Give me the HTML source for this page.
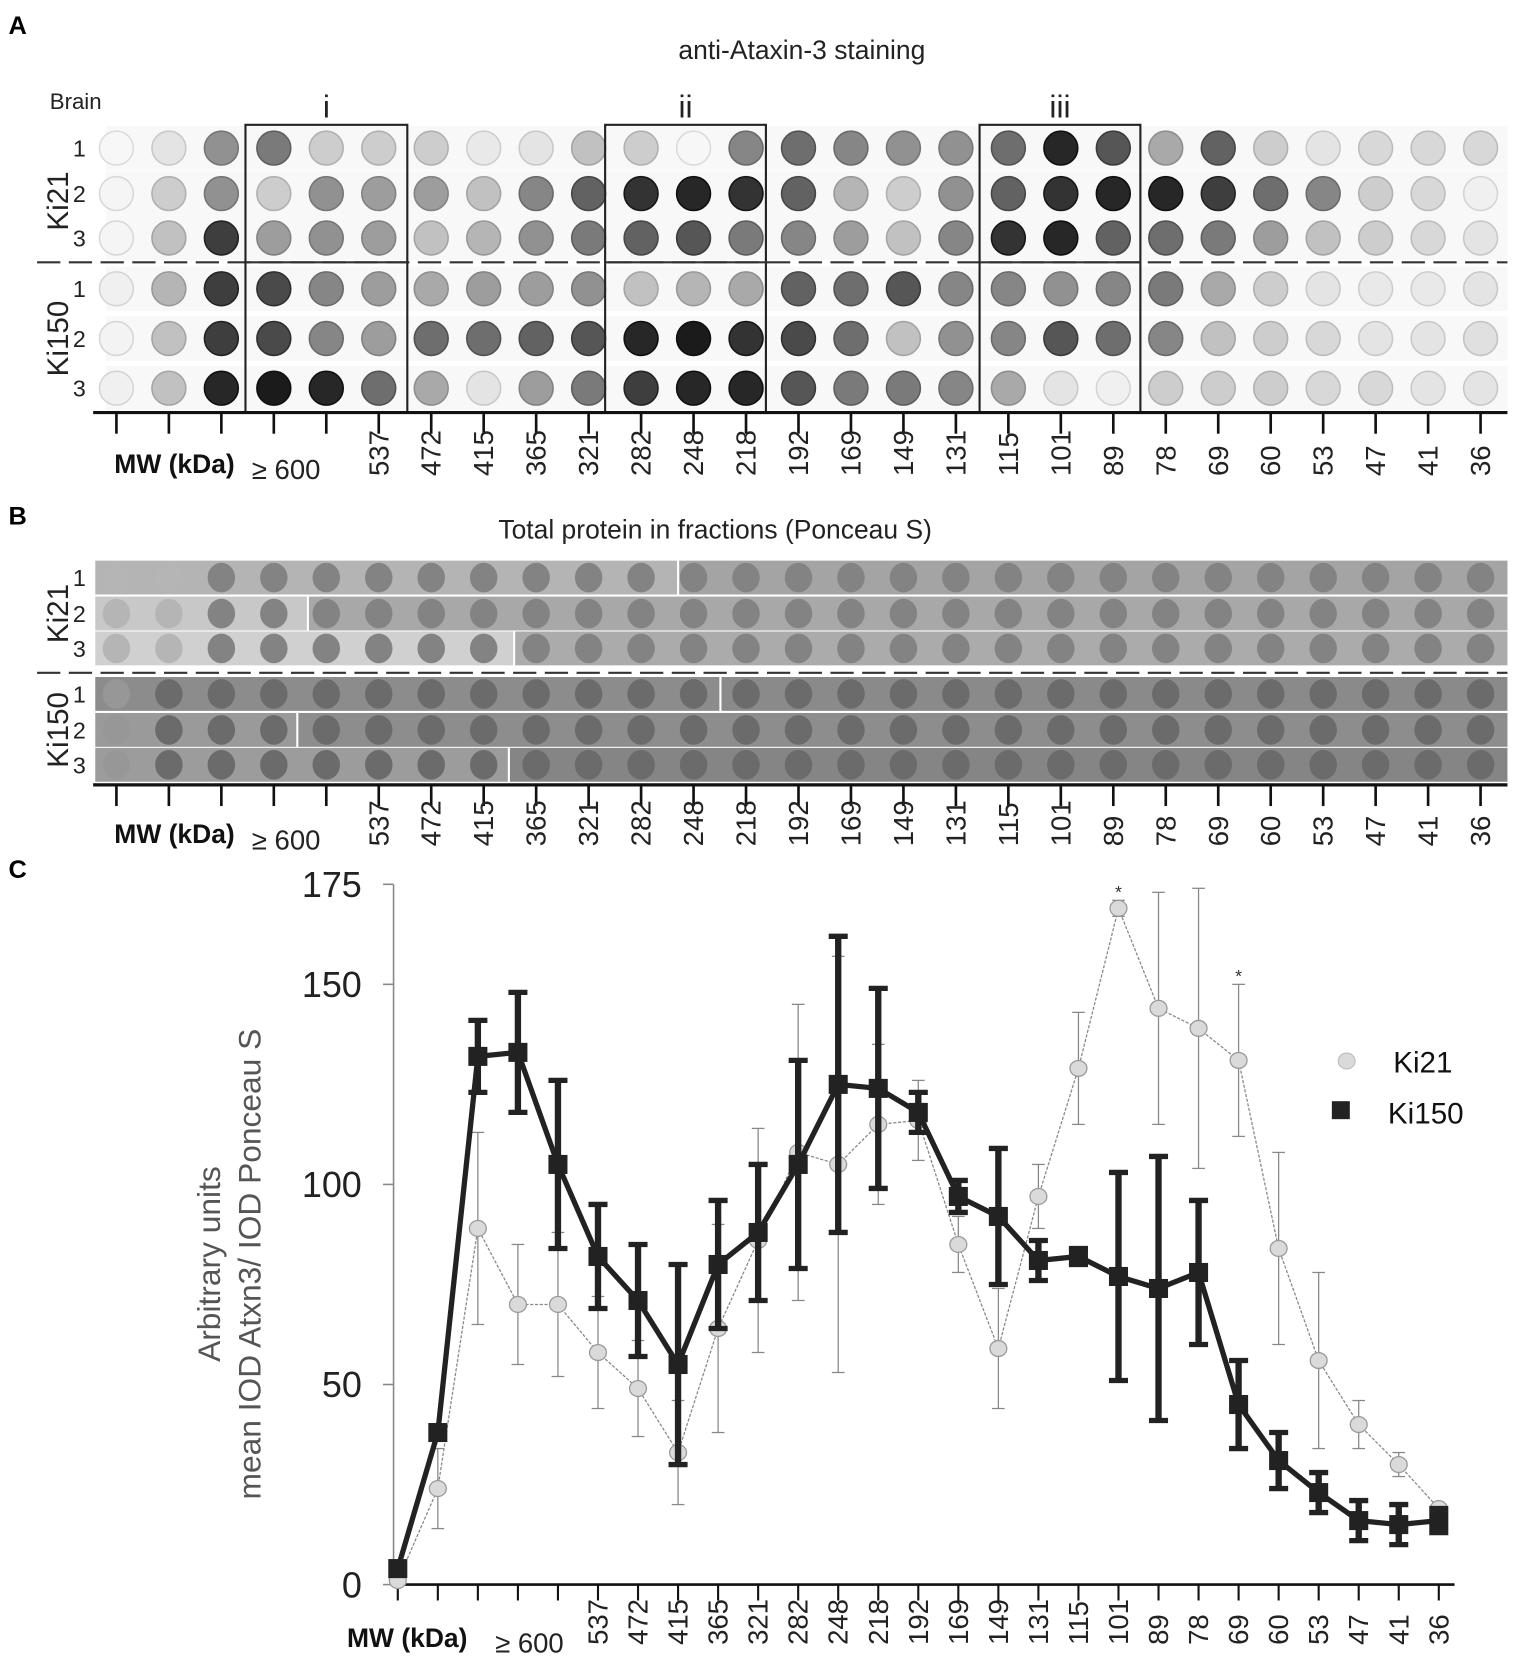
<!DOCTYPE html>
<html><head><meta charset="utf-8"><style>
html,body{margin:0;padding:0;background:#fff;}
svg{display:block;font-family:"Liberation Sans",Arial,sans-serif;}
</style></head><body>
<svg id="fig" width="1535" height="1665" viewBox="0 0 1451 1574" xmlns="http://www.w3.org/2000/svg">
<rect width="1451" height="1574" fill="#fff"/>
<text x="8" y="32" font-size="24" font-weight="bold">A</text>
<text x="758" y="56" font-size="25" text-anchor="middle" fill="#222">anti-Ataxin-3 staining</text>
<text x="47" y="103" font-size="21" fill="#222">Brain</text>
<g id="panelA"></g>
<text x="8" y="496" font-size="24" font-weight="bold">B</text>
<text x="676" y="509" font-size="25" text-anchor="middle" fill="#222">Total protein in fractions (Ponceau S)</text>
<g id="panelB"></g>
<text x="8" y="830" font-size="24" font-weight="bold">C</text>
<g id="chart"></g>
</svg>
<script>
const NS="http://www.w3.org/2000/svg";
// ---------- chart data ----------
const mwLabels=["","","","","≥ 600","537","472","415","365","321","282","248","218","192","169","149","131","115","101","89","78","69","60","53","47","41","36"];
const ki21Values=[1,24,89,70,70,58,49,33,64,86,108,105,115,116,85,59,97,129,169,144,139,131,84,56,40,30,19];
const ki21Err=[0,10,24,15,18,14,12,13,26,28,37,52,20,10,7,15,8,14,2,29,35,19,24,22,6,3,1];
const ki150Values=[4,38,132,133,105,82,71,55,80,88,105,125,124,118,97,92,81,82,77,74,78,45,31,23,16,15,16];
const ki150Err=[0,0,9,15,21,13,14,25,16,17,26,37,25,5,4,17,5,2,26,33,18,11,7,5,5,5,3];
const yTicks=[0,50,100,150,175];
const sigIdx=[18,21];
// dot blot intensities (0 white .. 1 black)
const blotA=[
[.02,.1,.45,.55,.2,.2,.2,.08,.1,.25,.2,.02,.5,.6,.5,.45,.45,.6,.9,.7,.35,.65,.2,.1,.15,.15,.15],
[.03,.2,.45,.2,.45,.4,.4,.25,.5,.65,.85,.9,.85,.65,.3,.2,.45,.65,.85,.9,.9,.8,.6,.5,.2,.15,.05],
[.03,.25,.8,.4,.45,.4,.25,.3,.45,.55,.65,.7,.55,.5,.4,.25,.5,.85,.9,.65,.6,.55,.4,.25,.2,.15,.1],
[.05,.3,.8,.75,.5,.4,.35,.4,.4,.45,.25,.3,.35,.65,.6,.7,.5,.5,.45,.5,.55,.35,.2,.1,.08,.08,.1],
[.04,.25,.8,.75,.5,.4,.6,.6,.65,.7,.9,.95,.85,.75,.6,.25,.45,.5,.7,.6,.5,.25,.2,.15,.1,.1,.12],
[.05,.25,.9,.95,.9,.6,.35,.1,.4,.55,.8,.9,.9,.7,.55,.55,.5,.35,.1,.05,.2,.2,.2,.15,.15,.1,.1]];

function el(t,a,p){const e=document.createElementNS(NS,t);for(const k in a)e.setAttribute(k,a[k]);p.appendChild(e);return e;}
function gray(v){const c=Math.round(252-v*237);return `rgb(${c},${c},${c})`;}
const colX=i=>110+i*49.6;

// ---------- Panel A ----------
const A=document.getElementById('panelA');
const rowYA=[140,183,225,273,320,367];
rowYA.forEach((ry,r)=>{
  const band=el('rect',{x:100,y:ry-21,width:1325,height:42,fill:'#f8f8f8'},A);
  
  
  blotA[r].forEach((v,i)=>{
    const c=el('circle',{cx:colX(i),cy:ry,r:16,fill:gray(v),stroke:gray(Math.min(1,v+0.12)),'stroke-width':1.5},A);
    
    
  });
  const n=el('text',{x:75,y:ry+8,'font-size':22,'text-anchor':'middle',fill:'#222'},A);n.textContent=[1,2,3,1,2,3][r];
  
  
});
el('line',{x1:35,y1:248,x2:1425,y2:248,stroke:'#333','stroke-width':2,'stroke-dasharray':'22 8'},A);
[[232,385,'i'],[572,724,'ii'],[926,1078,'iii']].forEach(b=>{
  const r=el('rect',{x:b[0],y:118,width:b[1]-b[0],height:272,fill:'none',stroke:'#222','stroke-width':2},A);
  
  
  el('line',{x1:b[0],y1:248,x2:b[1],y2:248,stroke:'#333','stroke-width':2},A);
  const t=el('text',{x:(b[0]+b[1])/2,y:111,'font-size':30,'text-anchor':'middle',fill:'#222'},A);t.textContent=b[2];
  
  
});
function groupLabels(g,x,y1,y2){
  let t=el('text',{x:0,y:0,'font-size':28,'text-anchor':'middle',fill:'#222',transform:`translate(${x},${y1}) rotate(-90)`},g);t.textContent='Ki21';
  
  t=el('text',{x:0,y:0,'font-size':28,'text-anchor':'middle',fill:'#222',transform:`translate(${x},${y2}) rotate(-90)`},g);t.textContent='Ki150';
  
}
groupLabels(A,64,190,320);
function mwAxis(g,y,labY){
  el('line',{x1:88,y1:y,x2:1425,y2:y,stroke:'#111','stroke-width':3},g);
  for(let i=0;i<27;i++){
    el('line',{x1:colX(i),y1:y,x2:colX(i),y2:y+20,stroke:'#111','stroke-width':2.5},g);
    if(i>=5){const t=el('text',{x:0,y:0,'font-size':26,fill:'#222',transform:`translate(${colX(i)+9},${labY}) rotate(-90)`},g);t.textContent=mwLabels[i];
      }
  }
  let t=el('text',{x:108,y:labY-3,'font-size':25,'font-weight':'bold',fill:'#111'},g);t.textContent='MW (kDa)';
  
  t=el('text',{x:238,y:labY+3,'font-size':26,fill:'#222'},g);t.textContent='≥ 600';
  
}
mwAxis(A,390,450);

// ---------- Panel B ----------
const B=document.getElementById('panelB');
const rowYB=[546,580,613,656,690,723];
const bg=[['#b4b4b4','#a4a4a4',640],['#c8c8c8','#a8a8a8',290],['#d0d0d0','#ababab',485],['#8c8c8c','#8a8a8a',680],['#9a9a9a','#8d8d8d',280],['#9c9c9c','#858585',480]];
rowYB.forEach((ry,r)=>{
  const s=el('rect',{x:90,y:ry-16,width:bg[r][2]-90,height:32,fill:bg[r][0]},B);
  
  const s2=el('rect',{x:bg[r][2]+2,y:ry-16,width:1425-bg[r][2]-2,height:32,fill:bg[r][1]},B);
  
  for(let i=0;i<27;i++){
    const light=r<3?(i<2?0.35:0.6):(i<1?0.5:0.72);
    const c=el('ellipse',{cx:colX(i),cy:ry,rx:13,ry:14,fill:gray(light*0.85)},B);
    
  }
  const n=el('text',{x:75,y:ry+8,'font-size':22,'text-anchor':'middle',fill:'#222'},B);n.textContent=[1,2,3,1,2,3][r];
  
});
el('line',{x1:35,y1:636,x2:1425,y2:636,stroke:'#333','stroke-width':2,'stroke-dasharray':'22 8'},B);
groupLabels(B,64,580,690);
mwAxis(B,742,800);

// ---------- Panel C chart ----------
const C=document.getElementById('chart');
const X=i=>376+i*37.85;
const Y=v=>1498-v*3.783;
el('line',{x1:372,y1:836,x2:372,y2:1498,stroke:'#888','stroke-width':1.5},C);
el('line',{x1:372,y1:1498,x2:1375,y2:1498,stroke:'#111','stroke-width':2.5},C);
yTicks.forEach(v=>{
  el('line',{x1:362,y1:Y(v),x2:372,y2:Y(v),stroke:'#888','stroke-width':1.5},C);
  const t=el('text',{x:342,y:Y(v)+12,'font-size':34,'text-anchor':'end',fill:'#222'},C);t.textContent=v;
  
});
const yt=el('text',{x:0,y:0,'font-size':30,'text-anchor':'middle',fill:'#555',transform:'translate(208,1195) rotate(-90)'},C);

const ts1=el('tspan',{x:0,dy:0},yt);ts1.textContent='Arbitrary units';
const ts2=el('tspan',{x:0,dy:38},yt);ts2.textContent='mean IOD Atxn3/ IOD Ponceau S';
for(let i=0;i<27;i++){
  el('line',{x1:X(i),y1:1498,x2:X(i),y2:1513,stroke:'#111','stroke-width':2},C);
  if(i>=5){const t=el('text',{x:0,y:0,'font-size':26,fill:'#222',transform:`translate(${X(i)+9},1555) rotate(-90)`},C);t.textContent=mwLabels[i];
    }
}
let tt=el('text',{x:328,y:1557,'font-size':25,'font-weight':'bold',fill:'#111'},C);tt.textContent='MW (kDa)';

tt=el('text',{x:468,y:1562,'font-size':26,fill:'#222'},C);tt.textContent='≥ 600';


// Ki21 series
const g21=el('g',{},C);

ki21Values.forEach((v,i)=>{ if(ki21Err[i]>0){
  const e=ki21Err[i];
  el('line',{x1:X(i),y1:Y(v+e),x2:X(i),y2:Y(v-e),stroke:'#888','stroke-width':1.2},g21);
  el('line',{x1:X(i)-6,y1:Y(v+e),x2:X(i)+6,y2:Y(v+e),stroke:'#888','stroke-width':1.2},g21);
  el('line',{x1:X(i)-6,y1:Y(v-e),x2:X(i)+6,y2:Y(v-e),stroke:'#888','stroke-width':1.2},g21);
}});
const p21=el('polyline',{points:ki21Values.map((v,i)=>X(i)+','+Y(v)).join(' '),fill:'none',stroke:'#888','stroke-width':1.2,'stroke-dasharray':'3 1.5'},g21);

ki21Values.forEach((v,i)=>{
  const c=el('ellipse',{cx:X(i),cy:Y(v),rx:8,ry:7.5,fill:'#dadada',stroke:'#999','stroke-width':1.2},g21);
  
});
// Ki150 series
const g150=el('g',{},C);

const p150=el('polyline',{points:ki150Values.map((v,i)=>X(i)+','+Y(v)).join(' '),fill:'none',stroke:'#222','stroke-width':5},g150);

ki150Values.forEach((v,i)=>{ if(ki150Err[i]>0){
  const e=ki150Err[i];
  el('line',{x1:X(i),y1:Y(v+e),x2:X(i),y2:Y(v-e),stroke:'#222','stroke-width':6},g150);
  el('line',{x1:X(i)-9,y1:Y(v+e),x2:X(i)+9,y2:Y(v+e),stroke:'#222','stroke-width':5},g150);
  el('line',{x1:X(i)-9,y1:Y(v-e),x2:X(i)+9,y2:Y(v-e),stroke:'#222','stroke-width':5},g150);
}});
ki150Values.forEach((v,i)=>{
  const s=el('rect',{x:X(i)-9,y:Y(v)-9,width:18,height:18,fill:'#222'},g150);
  
});
sigIdx.forEach(i=>{
  const t=el('text',{x:X(i),y:Y(ki21Values[i]+ki21Err[i])-2,'font-size':17,'text-anchor':'middle',fill:'#333'},C);t.textContent='*';
  
});
// legend
const lg=el('g',{},C);

let le=el('ellipse',{cx:1273,cy:1003,rx:8,ry:7.5,fill:'#dadada',stroke:'#bbb'},lg);

le=el('text',{x:1317,y:1014,'font-size':28,fill:'#111'},lg);le.textContent='Ki21';

le=el('rect',{x:1259,y:1041,width:17,height:17,fill:'#222'},lg);

le=el('text',{x:1312,y:1062,'font-size':28,fill:'#111'},lg);le.textContent='Ki150';

</script>
</body></html>
